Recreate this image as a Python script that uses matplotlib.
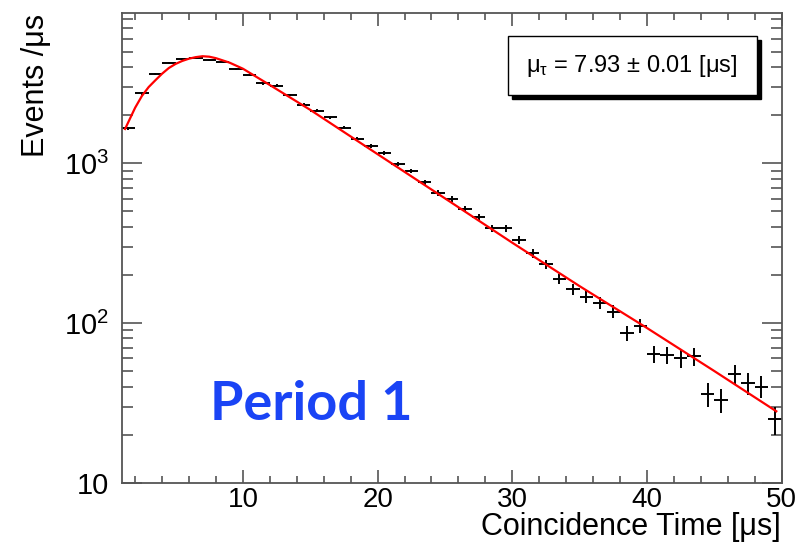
import matplotlib
matplotlib.use("Agg")
import matplotlib.pyplot as plt
from matplotlib.patches import Rectangle
from matplotlib.ticker import FixedLocator, LogLocator, NullFormatter

plt.rcParams['font.family'] = ['Liberation Sans', 'DejaVu Sans']
plt.rcParams['mathtext.default'] = 'regular'

# histogram bins (1 us wide), counts per bin
bin_centers = [i + 0.5 for i in range(1, 50)]
counts = [1656, 2742, 3640, 4230, 4500, 4560, 4440, 4290, 3910, 3590,
          3170, 3060, 2680, 2320, 2130, 1940, 1670, 1426, 1283, 1155,
          991, 896, 760, 654, 600, 517, 459, 392, 392, 331,
          273, 234, 189, 163, 146, 134, 118, 86, 96, 64,
          63, 60, 62, 36, 33, 48, 42, 40, 25]
errors = [c ** 0.5 for c in counts]

# fit curve
fit_t = [1.25, 2.0, 2.5, 3.0, 3.5, 4.0, 4.5, 5.0, 5.5, 6.0, 6.5, 7.0, 7.5,
         8.0, 9.0, 10.0, 12.0, 15.0, 20.0, 25.0, 30.0, 35.0, 40.0, 45.0, 49.6]
fit_y = [1640, 2230, 2640, 3000, 3310, 3640, 3950, 4190, 4375, 4520, 4620,
         4680, 4650, 4550, 4270, 3910, 3090, 2160, 1140, 603, 318, 170,
         93, 50, 28]

fit_label = r'$\mu_{\tau}$ = 7.93 $\pm$ 0.01 [$\mu$s]'

W, H = 797, 545
fig = plt.figure(figsize=(W / 100, H / 100), dpi=100)
ax = fig.add_axes([121.7 / W, 1 - 482.7 / H, 660 / W, 469.7 / H])

frame = '#555555'
ax.errorbar(bin_centers, counts, yerr=errors, xerr=0.5, fmt='none',
            ecolor='black', elinewidth=1.4, capsize=0)
ax.plot(fit_t, fit_y, color='red', lw=1.6)

ax.set_yscale('log')
ax.set_xlim(1, 50)
ax.set_ylim(10, 8730)

ax.xaxis.set_major_locator(FixedLocator([10, 20, 30, 40, 50]))
ax.xaxis.set_minor_locator(FixedLocator(list(range(2, 50, 2))))
ax.yaxis.set_major_locator(FixedLocator([10, 100, 1000]))
ax.yaxis.set_minor_locator(LogLocator(base=10, subs=range(2, 10)))
ax.yaxis.set_minor_formatter(NullFormatter())
ax.set_yticklabels(['10', '$10^{2}$', '$10^{3}$'])

for s in ax.spines.values():
    s.set_color(frame)
    s.set_linewidth(1.3)
ax.tick_params(which='both', direction='in', top=True, right=True, color=frame, width=1.2)
ax.tick_params(axis='x', which='major', length=9.5, labelsize=20, pad=3)
ax.tick_params(axis='x', which='minor', length=5)
ax.tick_params(axis='y', which='major', length=14.5, labelsize=21, pad=9)
ax.tick_params(axis='y', which='minor', length=8)

fig.text(36 / W, 1 - 14 / H, 'Events /\u03bcs', rotation=90, ha='center', va='top', fontsize=22)
fig.text(781 / W, 1 - 527 / H, 'Coincidence Time [\u03bcs]', ha='right', va='center', fontsize=22)

# stats box with shadow
fig.patches.append(Rectangle((512 / W, 1 - 99 / H), 249 / W, 59 / H, transform=fig.transFigure,
                             facecolor='black', edgecolor='black', zorder=5))
fig.patches.append(Rectangle((508 / W, 1 - 95 / H), 249 / W, 59 / H, transform=fig.transFigure,
                             facecolor='white', edgecolor='black', lw=1, zorder=6))
fig.text(632 / W, 1 - 66 / H, fit_label, ha='center', va='center', fontsize=17, zorder=7)

fig.text(210 / W, 1 - 404 / H, 'Period 1', ha='left', va='center', fontsize=39,
         fontweight='bold', color='#1a44f5', family=['Lato', 'DejaVu Sans'])

fig.savefig('out.png', dpi=100)
